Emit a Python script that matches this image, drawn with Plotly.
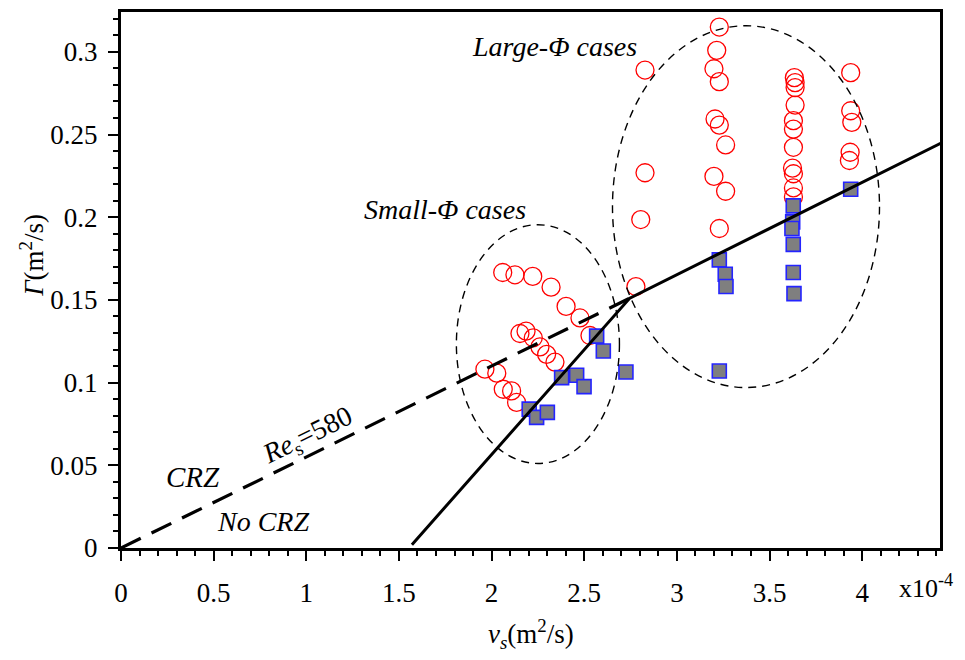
import plotly.graph_objects as go

# ---- data (v_s in 1e-4 m^2/s, Gamma in m^2/s) ----
circle_v = [2.06, 2.126, 2.222, 2.321, 2.402, 2.477, 2.531, 2.153, 2.186, 2.225, 2.261, 2.297, 2.342,
            1.964, 2.028, 2.063, 2.108, 2.135,
            2.828, 3.229, 3.215, 3.200, 3.229, 3.206, 3.229, 3.263, 2.828, 3.200, 3.263, 2.805, 3.229, 2.779,
            3.634, 3.638, 3.638, 3.638, 3.629, 3.629, 3.629, 3.624, 3.629, 3.629, 3.629,
            3.938, 3.938, 3.944, 3.935, 3.931]
circle_g = [0.1666, 0.1652, 0.1642, 0.1577, 0.1461, 0.1391, 0.1285, 0.1297, 0.1311, 0.1271, 0.1216, 0.1171, 0.1124,
            0.1081, 0.1057, 0.0960, 0.0950, 0.0880,
            0.289, 0.315, 0.3009, 0.2898, 0.282, 0.2594, 0.2557, 0.2437, 0.2269, 0.2247, 0.2157, 0.1986, 0.1932, 0.1581,
            0.2844, 0.2814, 0.2784, 0.2678, 0.2584, 0.2533, 0.2423, 0.2297, 0.2263, 0.2177, 0.2123,
            0.2874, 0.2644, 0.2574, 0.2393, 0.2343]

square_v = [2.567, 2.603, 2.378, 2.459, 2.499, 2.725, 2.203, 2.243, 2.301,
            3.229, 3.261, 3.265, 3.229, 3.628, 3.625, 3.621, 3.628, 3.628, 3.632, 3.938]
square_g = [0.1281, 0.1191, 0.1030, 0.1045, 0.0976, 0.1064, 0.0840, 0.0790, 0.0820,
            0.1742, 0.1655, 0.1581, 0.1070, 0.2069, 0.1972, 0.1932, 0.1836, 0.1666, 0.1538, 0.2169]

re_line_v = [0.0, 2.746]
re_line_g = [0.0, 0.1511]
boundary_v = [1.57, 2.746, 4.45]
boundary_g = [0.002, 0.1511, 0.2462]

ellipse_cx = [2.25, 3.373]
ellipse_cy = [0.1233, 0.2064]
ellipse_rx = [0.44, 0.7205]
ellipse_ry = [0.0722, 0.1094]

x_ticks = [0, 0.5, 1, 1.5, 2, 2.5, 3, 3.5, 4]
y_ticks = [0, 0.05, 0.1, 0.15, 0.2, 0.25, 0.3]

FONT = "Liberation Serif, Times New Roman, Tinos, serif"

fig = go.Figure()
fig.add_trace(go.Scatter(x=circle_v, y=circle_g, mode="markers",
                         marker=dict(symbol="circle-open", size=18, color="#ff0000",
                                     line=dict(width=1.3, color="#ff0000")),
                         showlegend=False))
fig.add_trace(go.Scatter(x=square_v, y=square_g, mode="markers",
                         marker=dict(symbol="square", size=14, color="#7f7f7f",
                                     line=dict(width=1.6, color="#2424ff")),
                         showlegend=False))
fig.add_trace(go.Scatter(x=re_line_v, y=re_line_g, mode="lines",
                         line=dict(color="black", width=3.2, dash="22px,12px"),
                         showlegend=False))
fig.add_trace(go.Scatter(x=boundary_v, y=boundary_g, mode="lines",
                         line=dict(color="black", width=3), showlegend=False))

for cx, cy, rx, ry in zip(ellipse_cx, ellipse_cy, ellipse_rx, ellipse_ry):
    fig.add_shape(type="circle", xref="x", yref="y",
                  x0=cx - rx, x1=cx + rx, y0=cy - ry, y1=cy + ry,
                  line=dict(color="black", width=1.4, dash="8px,6px"), layer="above")

ann_font = dict(family=FONT, size=28, color="black")
common = dict(showarrow=False, xanchor="center", yanchor="middle")
fig.add_annotation(x=2.342, y=0.3035, text="<i>Large-Φ cases</i>", font=ann_font, **common)
fig.add_annotation(x=1.749, y=0.2045, text="<i>Small-Φ cases</i>", font=ann_font, **common)
fig.add_annotation(x=0.39, y=0.0429, text="<i>CRZ</i>", font=dict(family=FONT, size=29, color="black"), **common)
fig.add_annotation(x=0.768, y=0.0158, text="<i>No CRZ</i>", font=ann_font, **common)
fig.add_annotation(x=1.009, y=0.0673, text="<i>Re</i><sub>s</sub>=580",
                   textangle=-26, font=dict(family=FONT, size=28, color="black"), **common)

fig.add_annotation(xref="paper", yref="paper", x=0.9835, y=-0.072, text="x10<sup>-4</sup>",
                   font=dict(family=FONT, size=26, color="black"), **common)
fig.add_annotation(xref="paper", yref="paper", x=-0.1087, y=0.547,
                   text="<i>Γ</i>(m<sup>2</sup>/s)", textangle=-90,
                   font=dict(family=FONT, size=27, color="black"), **common)
fig.add_annotation(xref="paper", yref="paper", x=0.5, y=-0.16,
                   text="<i>v<sub>s</sub></i>(m<sup>2</sup>/s)",
                   font=dict(family=FONT, size=27, color="black"), **common)

fig.update_xaxes(range=[0, 4.42], tickvals=x_ticks, ticktext=[str(t) if t != int(t) else str(int(t)) for t in x_ticks],
                 showgrid=False, zeroline=False, showline=True, linecolor="black", linewidth=3,
                 mirror=True, ticks="outside", ticklen=10, tickwidth=2, tickcolor="black",
                 ticklabelstandoff=9,
                 minor=dict(dtick=0.1, tick0=0, ticks="outside", ticklen=5, tickwidth=2, tickcolor="black"),
                 tickfont=dict(family=FONT, size=27, color="black"))
fig.update_yaxes(range=[0, 0.3241], tickvals=y_ticks, ticktext=[("0" if t == 0 else f"{t:g}") for t in y_ticks],
                 showgrid=False, zeroline=False, showline=True, linecolor="black", linewidth=3,
                 mirror=True, ticks="outside", ticklen=10, tickwidth=2, tickcolor="black",
                 ticklabelstandoff=5,
                 minor=dict(dtick=0.01, tick0=0, ticks="outside", ticklen=5, tickwidth=2, tickcolor="black"),
                 tickfont=dict(family=FONT, size=27, color="black"))

fig.update_layout(width=957, height=652, margin=dict(l=113, r=25, t=1, b=112),
                  paper_bgcolor="white", plot_bgcolor="white", showlegend=False,
                  font=dict(family=FONT, color="black"))

fig.write_html("out.html")
